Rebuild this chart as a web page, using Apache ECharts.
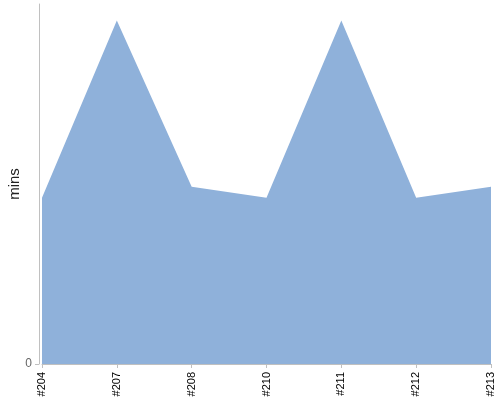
<!DOCTYPE html>
<html>
<head>
<meta charset="utf-8">
<script src="https://cdn.jsdelivr.net/npm/echarts@6/dist/echarts.min.js"></script>
<style>
  html, body { margin: 0; padding: 0; background: #fff; }
  #chart { width: 500px; height: 400px; }
</style>
</head>
<body>
<div id="chart"></div>
<script>
// builds and their durations
var builds = ['#204', '#207', '#208', '#210', '#211', '#212', '#213'];
var durations = [15, 31, 16, 15, 31, 15, 16];
var yTicks = [0];

var myChart = echarts.init(document.getElementById('chart'));

var option = {
    backgroundColor: '#fff',
    animation: false,
    grid: {
        left: 42,
        right: 9,
        top: 4,
        bottom: 36,
        containLabel: false,
        outerBoundsMode: 'none'
    },
    xAxis: {
        type: 'category',
        data: builds,
        boundaryGap: false,
        offset: 4,
        axisLine: { lineStyle: { color: '#c0c0c0', width: 1 } },
        axisTick: { alignWithLabel: true, length: 4, lineStyle: { color: '#c0c0c0' } },
        axisLabel: {
            rotate: 90,
            interval: 0,
            margin: 4,
            color: '#000',
            fontSize: 11,
            fontFamily: 'Liberation Sans'
        },
        splitLine: { show: false }
    },
    yAxis: {
        type: 'value',
        min: 0,
        max: 32.5,
        offset: 3,
        name: 'mins',
        nameLocation: 'middle',
        nameGap: 17,
        nameMoveOverlap: false,
        nameTextStyle: { color: '#222', fontSize: 15, fontFamily: 'Liberation Sans' },
        axisLine: { show: true, lineStyle: { color: '#c0c0c0', width: 1 } },
        axisTick: { show: true, length: 4, customValues: yTicks, lineStyle: { color: '#c0c0c0' } },
        axisLabel: {
            customValues: yTicks,
            margin: 7,
            color: '#666',
            fontSize: 12,
            fontFamily: 'Liberation Sans'
        },
        splitLine: { show: false }
    },
    series: [{
        type: 'line',
        data: durations,
        showSymbol: false,
        symbol: 'none',
        lineStyle: { width: 0, color: '#8fb1da' },
        areaStyle: { color: '#8fb1da', opacity: 1 },
        itemStyle: { color: '#8fb1da' }
    }]
};

myChart.setOption(option);
window.onresize = myChart.resize;
</script>
</body>
</html>
